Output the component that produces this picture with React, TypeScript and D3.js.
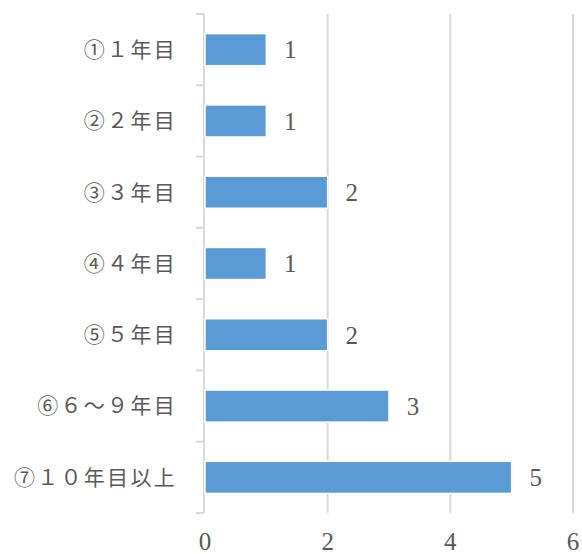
import React from 'react';
import * as d3 from 'd3';

const categories = ['①１年目', '②２年目', '③３年目', '④４年目', '⑤５年目', '⑥６～９年目', '⑦１０年目以上'];
const counts = [1, 1, 2, 1, 2, 3, 5];
const xTicks = [0, 2, 4, 6];

const W = 582;
const H = 554;
const margin = { top: 14, right: 9, bottom: 41, left: 205 };

const App = () => {
    const x = d3.scaleLinear().domain([0, 6]).range([margin.left, W - margin.right]);
    const y = d3.scaleBand<string>()
        .domain(categories)
        .range([margin.top, H - margin.bottom])
        .paddingInner(0.55)
        .paddingOuter(0.275);
    const step = y.step();
    const bandTop = (c: string) => y(c)! - y.paddingInner() * step / 2;

    const digitFont = '"Liberation Serif", "DejaVu Serif", serif';
    const labelFont = '"Liberation Serif", "Noto Sans CJK JP", serif';

    return (
        <svg width={W} height={H} style={{ position: 'absolute', left: 0, top: 0, background: '#fff' }}>
            {/* grid lines */}
            {xTicks.filter(t => t > 0).map(t => (
                <line key={t} x1={x(t)} x2={x(t)} y1={margin.top} y2={H - margin.bottom}
                      stroke="#d9d9d9" strokeWidth={2} />
            ))}
            {/* category axis */}
            <line x1={x(0) - 1} x2={x(0) - 1} y1={margin.top} y2={H - margin.bottom} stroke="#d9d9d9" strokeWidth={2} />
            {categories.map(c => (
                <line key={c} x1={x(0) - 9} x2={x(0) - 1} y1={bandTop(c)} y2={bandTop(c)} stroke="#d9d9d9" strokeWidth={2} />
            ))}
            <line x1={x(0) - 9} x2={x(0) - 1} y1={H - margin.bottom} y2={H - margin.bottom} stroke="#d9d9d9" strokeWidth={2} />

            {/* bars */}
            {categories.map((c, i) => (
                <rect key={c} x={x(0)} y={y(c)} width={x(counts[i]) - x(0)} height={y.bandwidth()}
                      fill="#5b9bd5" stroke="#fff" strokeWidth={1.5} />
            ))}

            {/* value labels */}
            {categories.map((c, i) => (
                <text key={c} x={x(counts[i]) + 24} y={y(c)! + y.bandwidth() / 2} dy="0.35em"
                      textAnchor="middle" fontFamily={digitFont} fontSize={25} fill="#595959">
                    {counts[i]}
                </text>
            ))}

            {/* category labels */}
            {categories.map(c => (
                <text key={c} x={177} y={y(c)! + y.bandwidth() / 2} dy="0.35em"
                      textAnchor="end" fontFamily={labelFont} fontSize={21} letterSpacing={2.3} fill="#595959">
                    {c}
                </text>
            ))}

            {/* x tick labels */}
            {xTicks.map(t => (
                <text key={t} x={x(t)} y={550} textAnchor="middle" fontFamily={digitFont} fontSize={25} fill="#595959">
                    {t}
                </text>
            ))}
        </svg>
    );
};

export default App;
